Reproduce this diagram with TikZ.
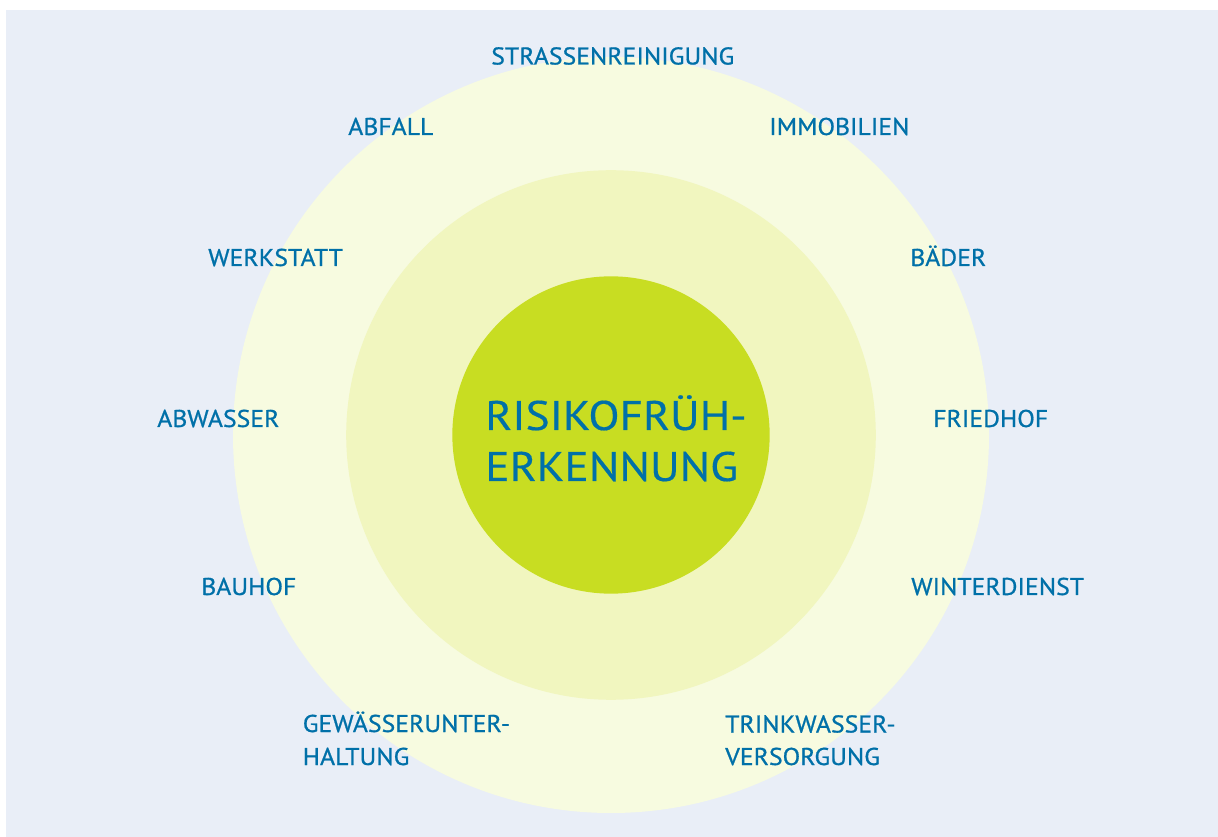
\documentclass[tikz,border=0pt]{standalone}
\usepackage{fontspec}
\setmainfont{PT Sans}
\newfontfamily\lblfont[FakeStretch=1.06,FakeBold=0.8]{PT Sans}
\newfontfamily\bigfont[FakeStretch=1.1,FakeBold=0.4]{PT Sans}
\definecolor{bgc}{HTML}{E9EEF7}
\definecolor{ringout}{HTML}{F7FBE0}
\definecolor{ringmid}{HTML}{F1F6BF}
\definecolor{core}{HTML}{C8DD22}
\definecolor{txt}{HTML}{0070A8}
\tikzset{
  lbl/.style={anchor=base west, inner sep=0pt, text=txt, font=\lblfont\fontsize{18.2}{20}\selectfont},
  big/.style={anchor=base west, inner sep=0pt, text=txt, font=\bigfont\fontsize{31}{34}\selectfont}
}
\begin{document}
\begin{tikzpicture}[x=0.75pt,y=-0.75pt]
\useasboundingbox (0,0) rectangle (1218,837);
\fill[white] (0,0) rectangle (1218,837);
\fill[bgc] (6,10) rectangle (1218,837);
\coordinate (c) at (611,435);
\fill[ringout] (c) circle[radius=283.5pt];
\fill[ringmid] (c) circle[radius=198.6pt];
\fill[core] (c) circle[radius=119pt];
\node[big] (t1) at (485,430) {RISIKOFRÜH-};
\node[big] (t2) at (485,481) {ERKENNUNG};
\node[lbl] (l1) at (491,64.5) {STRASSENREINIGUNG};
\node[lbl] (l2) at (348,135) {ABFALL};
\node[lbl] (l3) at (769,135) {IMMOBILIEN};
\node[lbl] (l4) at (208,266) {WERKSTATT};
\node[lbl] (l5) at (910,266) {BÄDER};
\node[lbl] (l6) at (157,427) {ABWASSER};
\node[lbl] (l7) at (933,427) {FRIEDHOF};
\node[lbl] (l8) at (201,595) {BAUHOF};
\node[lbl] (l9) at (911,595) {WINTERDIENST};
\node[lbl] (l10a) at (302.5,732) {GEWÄSSERUNTER-};
\node[lbl] (l10b) at (302.5,765) {HALTUNG};
\node[lbl] (l11a) at (725,732.5) {TRINKWASSER-};
\node[lbl] (l11b) at (725,765) {VERSORGUNG};
\end{tikzpicture}
\end{document}
